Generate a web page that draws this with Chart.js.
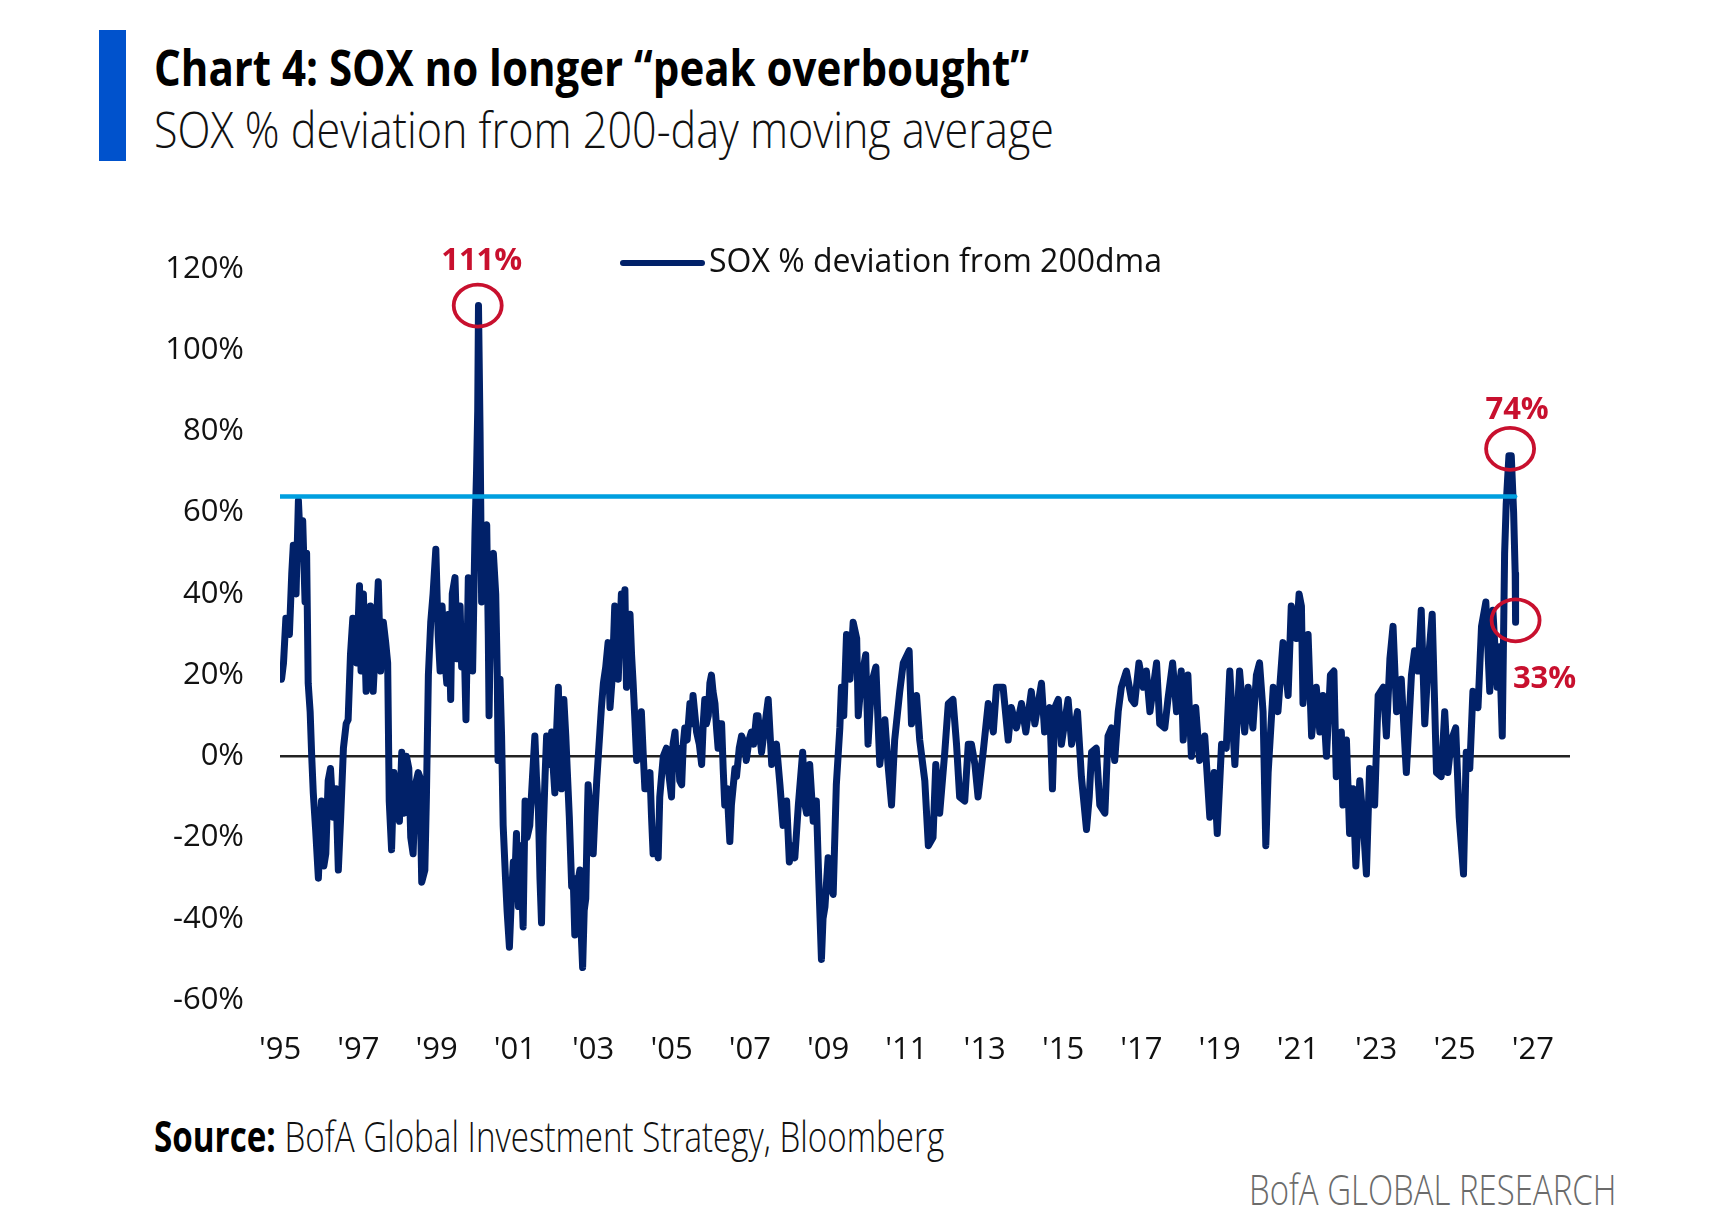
<!DOCTYPE html>
<html>
<head>
<meta charset="utf-8">
<title>SOX % deviation from 200-day moving average</title>
<script src="https://cdn.jsdelivr.net/npm/chart.js@4.4.1/dist/chart.umd.min.js"></script>
<style>
  html, body { margin: 0; padding: 0; background: #fff; }
  #page { position: relative; width: 1721px; height: 1225px; overflow: hidden; font-family: "Open Sans", "Noto Sans", sans-serif; }
  .bar { position: absolute; left: 99px; top: 30px; width: 27px; height: 131px; background: #0052cc; }
  .fit { position: absolute; white-space: nowrap; transform-origin: 0 0; line-height: 1; }
  #title { left: 154px; top: 42px; font-size: 50px; font-weight: 700; color: #000; }
  #subtitle { left: 154px; top: 104px; font-size: 50px; font-weight: 300; color: #111; }
  #source { left: 154px; top: 1114px; font-size: 43px; font-weight: 300; color: #111; }
  #source b { font-weight: 700; color: #000; }
  #brand { left: 1249px; top: 1168px; font-size: 42px; font-weight: 300; color: #6b6b6b; }
  #chartBox { position: absolute; left: 0; top: 200px; width: 1721px; height: 880px; }
</style>
</head>
<body>
<div id="page">
  <div class="bar"></div>
  <div id="title" class="fit">Chart 4: SOX no longer “peak overbought”</div>
  <div id="subtitle" class="fit">SOX % deviation from 200-day moving average</div>
  <div id="chartBox"><canvas id="chart" width="1721" height="880"></canvas></div>
  <div id="source" class="fit"><b>Source:</b> BofA Global Investment Strategy, Bloomberg</div>
  <div id="brand" class="fit">BofA GLOBAL RESEARCH</div>
</div>
<script>
// tick labels
var xTickYears = [1995, 1997, 1999, 2001, 2003, 2005, 2007, 2009, 2011, 2013, 2015, 2017, 2019, 2021, 2023, 2025, 2027];
var yTickValues = [-60, -40, -20, 0, 20, 40, 60, 80, 100, 120];

// SOX % deviation from 200dma (decimal years)
var seriesYears = [
  1995.00, 1995.04, 1995.09, 1995.15, 1995.24, 1995.30, 1995.34, 1995.41, 1995.47, 1995.53, 1995.58, 1995.64, 1995.68, 1995.72, 1995.77, 1995.81, 1995.85, 1995.91, 1995.98,
  1996.02, 1996.06, 1996.12, 1996.17, 1996.23, 1996.29, 1996.36, 1996.43, 1996.49, 1996.55, 1996.62, 1996.69, 1996.74, 1996.80, 1996.86, 1996.91, 1996.96,
  1997.03, 1997.07, 1997.13, 1997.20, 1997.26, 1997.31, 1997.38, 1997.45, 1997.51, 1997.57, 1997.64, 1997.70, 1997.75, 1997.79, 1997.85, 1997.91, 1997.98,
  1998.05, 1998.11, 1998.17, 1998.23, 1998.29, 1998.34, 1998.40, 1998.46, 1998.53, 1998.57, 1998.62, 1998.70, 1998.74, 1998.79, 1998.85, 1998.91, 1998.98,
  1999.04, 1999.09, 1999.14, 1999.21, 1999.26, 1999.31, 1999.36, 1999.40, 1999.47, 1999.53, 1999.60, 1999.64, 1999.70, 1999.75, 1999.81, 1999.87, 1999.92, 1999.98,
  2000.02, 2000.05, 2000.07, 2000.11, 2000.15, 2000.20, 2000.28, 2000.32, 2000.34, 2000.40, 2000.45, 2000.51, 2000.55, 2000.57, 2000.62, 2000.66, 2000.70, 2000.76, 2000.80, 2000.86, 2000.91, 2000.96,
  2001.00, 2001.04, 2001.09, 2001.14, 2001.21, 2001.26, 2001.31, 2001.38, 2001.45, 2001.51, 2001.55, 2001.60, 2001.64, 2001.68, 2001.72, 2001.77, 2001.81, 2001.88, 2001.94, 2001.98,
  2002.02, 2002.06, 2002.11, 2002.15, 2002.19, 2002.25, 2002.30, 2002.34, 2002.39, 2002.45, 2002.49, 2002.53, 2002.59, 2002.66, 2002.70, 2002.73, 2002.77, 2002.81, 2002.85, 2002.87, 2002.93,
  2003.00, 2003.04, 2003.09, 2003.13, 2003.17, 2003.21, 2003.26, 2003.32, 2003.38, 2003.43, 2003.49, 2003.55, 2003.60, 2003.64, 2003.68, 2003.72, 2003.77, 2003.81, 2003.85, 2003.89, 2003.94, 2003.98,
  2004.02, 2004.06, 2004.11, 2004.17, 2004.23, 2004.28, 2004.32, 2004.38, 2004.45, 2004.49, 2004.53, 2004.59, 2004.66, 2004.70, 2004.79, 2004.87, 2004.94,
  2005.00, 2005.04, 2005.09, 2005.13, 2005.17, 2005.21, 2005.26, 2005.30, 2005.34, 2005.40, 2005.47, 2005.51, 2005.55, 2005.60, 2005.64, 2005.71, 2005.77, 2005.81, 2005.85, 2005.89, 2005.94, 2005.98,
  2006.02, 2006.06, 2006.11, 2006.15, 2006.19, 2006.23, 2006.28, 2006.32, 2006.36, 2006.42, 2006.49, 2006.53, 2006.57, 2006.62, 2006.66, 2006.73, 2006.79, 2006.83, 2006.87, 2006.91, 2006.98,
  2007.04, 2007.10, 2007.17, 2007.21, 2007.30, 2007.39, 2007.47, 2007.56, 2007.68, 2007.77, 2007.85, 2007.94,
  2008.01, 2008.08, 2008.15, 2008.24, 2008.35, 2008.41, 2008.45, 2008.53, 2008.62, 2008.70, 2008.76, 2008.83, 2008.87, 2008.92,
  2009.00, 2009.06, 2009.13, 2009.21, 2009.30, 2009.34, 2009.40, 2009.47, 2009.56, 2009.64, 2009.73, 2009.77, 2009.85, 2009.96,
  2010.02, 2010.11, 2010.22, 2010.32, 2010.45, 2010.53, 2010.62, 2010.70, 2010.83, 2010.92,
  2011.07, 2011.13, 2011.26, 2011.34, 2011.47, 2011.56, 2011.68, 2011.75, 2011.85, 2011.98,
  2012.07, 2012.19, 2012.28, 2012.36, 2012.49, 2012.58, 2012.66, 2012.75, 2012.83, 2012.96,
  2013.09, 2013.22, 2013.30, 2013.47, 2013.60, 2013.68, 2013.81, 2013.94,
  2014.05, 2014.19, 2014.28, 2014.45, 2014.53, 2014.66, 2014.73, 2014.79, 2014.88, 2014.96,
  2015.13, 2015.22, 2015.37, 2015.47, 2015.60, 2015.67, 2015.73, 2015.85, 2015.94,
  2016.07, 2016.15, 2016.24, 2016.32, 2016.41, 2016.49, 2016.62, 2016.75, 2016.83, 2016.94,
  2017.05, 2017.13, 2017.22, 2017.39, 2017.47, 2017.60, 2017.68, 2017.80, 2017.90,
  2018.02, 2018.07, 2018.19, 2018.28, 2018.39, 2018.49, 2018.62, 2018.75, 2018.86, 2018.94,
  2019.05, 2019.17, 2019.26, 2019.39, 2019.51, 2019.64, 2019.73, 2019.85, 2019.94,
  2020.02, 2020.11, 2020.18, 2020.24, 2020.37, 2020.49, 2020.62, 2020.75, 2020.83, 2020.96,
  2021.03, 2021.09, 2021.13, 2021.26, 2021.35, 2021.47, 2021.56, 2021.64, 2021.73, 2021.83, 2021.92, 2021.98,
  2022.11, 2022.15, 2022.24, 2022.32, 2022.41, 2022.48, 2022.58, 2022.66, 2022.75, 2022.83, 2022.96,
  2023.05, 2023.18, 2023.26, 2023.35, 2023.43, 2023.52, 2023.64, 2023.77, 2023.90, 2023.98,
  2024.07, 2024.15, 2024.24, 2024.32, 2024.43, 2024.54, 2024.66, 2024.75, 2024.83, 2024.92,
  2025.03, 2025.12, 2025.23, 2025.30, 2025.39, 2025.47, 2025.60, 2025.69, 2025.80, 2025.90, 2025.98,
  2026.09, 2026.15, 2026.22, 2026.28, 2026.32, 2026.39, 2026.45, 2026.51, 2026.55, 2026.56
];
var seriesValues = [
  22, 19, 23, 34, 30, 45, 52, 40, 63, 50, 58, 38, 50, 18, 11, 0, -9, -18, -30,
  -21, -11, -27, -24, -6, -3, -15, -8, -28, -15, 2, 8, 9, 25, 34, 30, 23,
  42, 21, 40, 16, 26, 37, 16, 30, 43, 21, 33, 28, 23, -11, -23, -4, -10,
  -16, 1, -14, 0, -3, -20, -24, -7, -4, -5, -31, -28, -10, 20, 33, 40, 51,
  30, 21, 37, 24, 18, 35, 14, 40, 44, 24, 37, 22, 30, 9, 44, 28, 21, 55,
  70, 85, 111, 80, 38, 55, 57, 30, 10, 48, 50, 40, 20, -1, 19, 5, -17, -30, -38, -47, -35, -26,
  -30, -19, -37, -22, -42, -11, -20, -17, -5, 5, -5, -13, -30, -41, -20, -5, 5, -2, 6, -3,
  -9, 5, 17, 0, -8, 14, 5, -4, -15, -32, -30, -44, -32, -28, -45, -52, -38, -35, -15, -7, -15,
  -24, -15, -6, 0, 6, 12, 18, 22, 28, 12, 20, 37, 25, 19, 30, 40, 30, 41, 17, 28, 35, 25,
  18, 10, -1, 3, 11, 0, -8, -8, -4, -15, -24, -20, -25, -10, 0, 2, -5,
  -10, 3, 6, -2, 2, -6, -7, 3, 7, 4, 13, 8, 15, 10, 6, 3, -2, 8, 14, 8, 10, 18,
  20, 16, 13, 7, 2, 8, 8, -3, -12, -8, -21, -12, -8, -3, -5, 2, 5, 4, 3, -1, 4,
  6, 3, 10, 10, 1, 8, 14, -2, 3, -7, -17, -11,
  -26, -22, -25, -12, 1, -12, -14, -2, -16, -11, -30, -50, -40, -37,
  -25, -32, -34, -7, 7, 17, 10, 30, 19, 33, 29, 10, 19, 25,
  3, 18, 22, -2, 9, -2, -12, 4, 16, 23,
  26, 8, 15, 4, -6, -22, -20, -2, -14, 1,
  13, 14, 3, -10, -11, 3, 3, -2, -10, 1,
  13, 6, 17, 17, 4, 12, 7, 13,
  6, 16, 8, 18, 6, 12, -8, 12, 14, 3,
  14, 3, 11, -5, -18, -10, 1, 2, -12,
  -14, 5, 7, -1, 11, 17, 21, 14, 13, 23,
  17, 21, 11, 23, 8, 7, 14, 23, 11,
  21, 4, 20, 0, 12, -1, 5, -15, -4, -19,
  3, 2, 21, -2, 21, 6, 17, 7, 20,
  23, 11, -22, -4, 17, 11, 28, 15, 37, 29,
  40, 37, 13, 30, 5, 17, 6, 15, 0, 20, 21, -5,
  6, -12, 4, -19, -8, -27, -6, -15, -29, -3, -12,
  15, 17, 5, 24, 32, 11, 19, -4, 20, 26,
  21, 36, 8, 22, 35, -4, -5, 11, -4, 4,
  7, -15, -29, 1, -3, 16, 12, 32, 38, 16, 36,
  17, 27, 5, 50, 62, 74, 74, 60, 45, 33
];

// "peak overbought" reference level and its span
var thresholdValue = 64;
var thresholdYears = [1995, 2026.55];

// callouts (circle + label)
var calloutYears = [2000.05, 2026.42, 2026.56];
var calloutValues = [111, 74, 33];

var legendLabel = 'SOX % deviation from 200dma';

var NAVY = '#012169';
var CYAN = '#009fdf';
var RED = '#c8102e';
var FONT = '"Open Sans", "Noto Sans", sans-serif';

// pixel offsets for callout circles / labels
var calloutStyle = [
  { circleDy: 0, labelDx: 4, labelDy: -44 },
  { circleDy: -7, labelDx: 7, labelDy: -39 },
  { circleDy: -2, labelDx: 29, labelDy: 59 }
];

var calloutPlugin = {
  id: 'callouts',
  afterDatasetsDraw: function(chart) {
    var ctx = chart.ctx, xs = chart.scales.x, ys = chart.scales.y;
    ctx.save();
    for (var i = 0; i < calloutYears.length; i++) {
      var st = calloutStyle[i];
      var cx = xs.getPixelForValue(calloutYears[i]);
      var cy = ys.getPixelForValue(calloutValues[i]) + st.circleDy;
      ctx.beginPath();
      ctx.ellipse(cx, cy, 24, 21, 0, 0, Math.PI * 2);
      ctx.lineWidth = 3.8;
      ctx.strokeStyle = RED;
      ctx.stroke();
      ctx.fillStyle = RED;
      ctx.font = 'bold 31px ' + FONT;
      ctx.textAlign = 'center';
      ctx.textBaseline = 'middle';
      ctx.fillText(calloutValues[i] + '%', cx + st.labelDx, cy + st.labelDy);
    }
    ctx.restore();
  }
};

var legendPlugin = {
  id: 'customLegend',
  afterDraw: function(chart) {
    var ctx = chart.ctx, area = chart.chartArea;
    var x0 = area.left + 343, y0 = area.top - 6;
    ctx.save();
    ctx.beginPath();
    ctx.moveTo(x0, y0);
    ctx.lineTo(x0 + 79, y0);
    ctx.lineWidth = 6;
    ctx.lineCap = 'round';
    ctx.strokeStyle = NAVY;
    ctx.stroke();
    ctx.fillStyle = '#111';
    ctx.font = '32px ' + FONT;
    ctx.textAlign = 'left';
    ctx.textBaseline = 'middle';
    ctx.fillText(legendLabel, x0 + 86, y0);
    ctx.restore();
  }
};

var ctx = document.getElementById('chart').getContext('2d');
window.soxChart = new Chart(ctx, {
  type: 'line',
  data: {
    datasets: [{
      label: legendLabel,
      data: seriesYears.map(function(x, i) { return { x: x, y: seriesValues[i] }; }),
      borderColor: NAVY,
      borderWidth: 7,
      borderJoinStyle: 'round',
      borderCapStyle: 'round',
      pointRadius: 0,
      tension: 0,
      order: 2
    }, {
      label: 'peak overbought',
      data: thresholdYears.map(function(x) { return { x: x, y: thresholdValue }; }),
      borderColor: CYAN,
      borderWidth: 4.5,
      borderCapStyle: 'round',
      pointRadius: 0,
      order: 1
    }]
  },
  options: {
    responsive: false,
    animation: false,
    layout: { padding: { left: 0, right: 151, top: 69, bottom: 0 } },
    plugins: { legend: { display: false }, tooltip: { enabled: false } },
    scales: {
      x: {
        type: 'linear',
        min: 1995,
        max: 2027.95,
        afterBuildTicks: function(s) { s.ticks = xTickYears.map(function(v) { return { value: v }; }); },
        afterFit: function(s) { s.height = 80; },
        border: { display: false },
        grid: { display: false, drawTicks: false },
        ticks: {
          padding: 32,
          autoSkip: false,
          maxRotation: 0,
          color: '#111',
          font: { family: FONT, size: 31 },
          callback: function(v) { return "'" + String(v).slice(2); }
        }
      },
      y: {
        min: -60,
        max: 120,
        afterBuildTicks: function(s) { s.ticks = yTickValues.map(function(v) { return { value: v }; }); },
        afterFit: function(s) { s.width = 280; },
        border: { display: false },
        grid: {
          drawTicks: false,
          lineWidth: 2.5,
          color: function(c) { return c.tick && c.tick.value === 0 ? '#222' : 'rgba(0,0,0,0)'; }
        },
        ticks: {
          padding: 36,
          color: '#111',
          font: { family: FONT, size: 31 },
          callback: function(v) { return v + '%'; }
        }
      }
    }
  },
  plugins: [calloutPlugin, legendPlugin]
});

// squeeze the heading / footer texts to the widths they have in the original
function fitText(id, width, rightEdge) {
  var el = document.getElementById(id);
  el.style.transform = 'scaleX(' + (width / el.offsetWidth) + ')';
  if (rightEdge) el.style.left = (rightEdge - width) + 'px';
}
fitText('title', 875);
fitText('subtitle', 900);
fitText('source', 790);
fitText('brand', 367, 1616);
</script>
</body>
</html>
